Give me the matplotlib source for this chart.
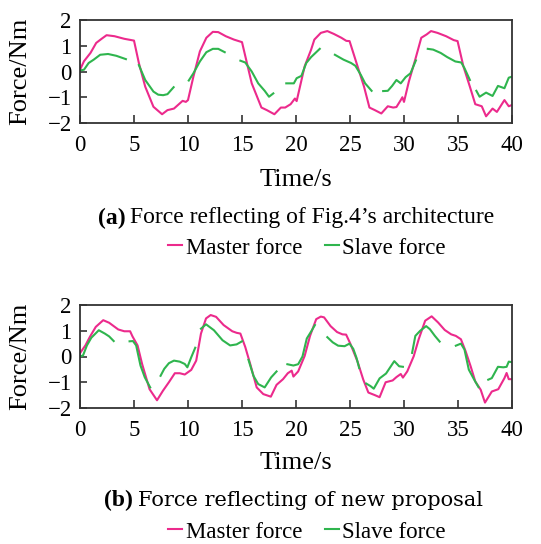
import numpy as np
import matplotlib
matplotlib.use("Agg")
import matplotlib.pyplot as plt

nan = np.nan

# ---------------- (a) Fig.4's architecture ----------------
a_master_t = [0, 0.37, 0.97, 1.5, 2.0, 2.46, 3.2, 4.1, 5.0, 5.45, 6.04, 6.8, 7.6, 8.1, 8.7, 9.5, 9.8, 10.0,
              10.5, 11.1, 11.7, 12.3, 12.8, 13.5, 14.25, 15.0, 15.9, 16.8, 17.3, 18.0, 18.6, 19.0, 19.5, 19.9,
              20.06, 20.8, 21.4, 21.7, 22.3, 22.9, 23.5, 24.2, 24.66, 24.96, 25.7, 26.3, 26.8, 27.3, 27.9, 28.5,
              29.0, 29.3, 29.7, 29.85, 30.0, 30.45, 31.04, 31.6, 32.1, 32.5, 33.1, 33.9, 34.6, 34.96, 35.5, 36.1,
              36.6, 37.2, 37.6, 38.2, 38.6, 39.3, 39.7, 40]
a_master_f = [0.07, 0.4, 0.72, 1.11, 1.27, 1.41, 1.37, 1.27, 1.2, 0.33, -0.59, -1.37, -1.66, -1.5, -1.44, -1.14,
              -1.18, -1.11, -0.2, 0.78, 1.31, 1.54, 1.53, 1.37, 1.24, 1.14, -0.46, -1.4, -1.5, -1.66, -1.4, -1.4,
              -1.27, -1.05, -1.15, 0.2, 0.85, 1.24, 1.5, 1.57, 1.46, 1.31, 1.19, 1.18, 0.2, -0.59, -1.4, -1.5,
              -1.63, -1.35, -1.4, -1.38, -1.11, -1.0, -1.18, -0.39, 0.46, 1.31, 1.44, 1.57, 1.5, 1.37, 1.22, 1.18,
              0.2, -0.59, -1.27, -1.35, -1.74, -1.44, -1.57, -1.11, -1.35, -1.3]

a_slave_t = [0, 0.37, 0.8, 1.27, 1.87, 2.6, 3.36, 4.25, nan,
             5.45, 6.04, 6.8, 7.24, 7.7, 8.1, 8.67, nan,
             10.07, 10.5, 11.1, 11.7, 12.3, 12.8, 13.4, nan,
             14.85, 15.3, 15.9, 16.5, 17.1, 17.5, 17.9, nan,
             19.1, 19.8, 20.06, 20.5, 20.95, 21.4, 21.8, 22.2, nan,
             23.6, 24.4, 25.1, 25.5, 26.0, 26.4, 27.0, nan,
             28.07, 28.5, 28.9, 29.3, 29.7, 30.15, 30.6, 31.1, nan,
             32.2, 32.7, 33.4, 34.0, 34.75, 35.3, 35.6, 36.1, nan,
             36.7, 37.0, 37.6, 38.2, 38.7, 39.3, 39.7, 40]
a_slave_f = [0.04, 0.07, 0.33, 0.46, 0.65, 0.68, 0.61, 0.48, nan,
             0.25, -0.33, -0.78, -0.9, -0.92, -0.88, -0.61, nan,
             -0.35, -0.07, 0.39, 0.75, 0.88, 0.88, 0.75, nan,
             0.42, 0.35, 0.0, -0.46, -0.75, -0.98, -0.85, nan,
             -0.46, -0.46, -0.26, -0.17, 0.33, 0.56, 0.72, 0.88, nan,
             0.65, 0.46, 0.33, 0.22, -0.13, -0.46, -0.75, nan,
             -0.76, -0.75, -0.56, -0.33, -0.46, -0.22, -0.07, 0.43, nan,
             0.88, 0.85, 0.72, 0.56, 0.39, 0.35, 0.13, -0.33, nan,
             -0.75, -0.98, -0.82, -0.95, -0.56, -0.65, -0.24, -0.2]

# ---------------- (b) new proposal ----------------
b_master_t = [0, 0.5, 0.91, 1.46, 2.15, 2.7, 3.54, 4.1, 4.64, 4.86, 5.33, 5.75, 6.44, 7.13, 7.68, 8.23, 8.78,
              9.24, 9.7, 10.3, 10.76, 11.2, 11.67, 12.1, 12.6, 13.3, 14.1, 14.5, 14.85, 15.3, 15.76, 16.36,
              16.97, 17.67, 18.2, 18.8, 19.24, 19.6, 19.76, 20.2, 20.8, 21.3, 21.87, 22.3, 22.6, 23.2, 23.8,
              24.3, 24.64, 25.03, 25.7, 26.23, 26.7, 27.3, 27.74, 28.3, 28.95, 29.3, 29.7, 29.9, 30.3, 30.9,
              31.36, 31.96, 32.56, 33.16, 33.77, 34.37, 34.8, 35.27, 35.7, 36.17, 36.6, 37.1, 37.5, 38.13,
              38.73, 39.3, 39.5, 39.7, 40]
b_master_f = [0.13, 0.43, 0.76, 1.15, 1.41, 1.31, 1.05, 0.98, 0.98, 0.78, 0.43, -0.29, -1.27, -1.7, -1.33,
              -1.0, -0.65, -0.65, -0.7, -0.52, -0.16, 0.89, 1.48, 1.61, 1.54, 1.22, 0.98, 0.92, 0.89, 0.37,
              -0.29, -1.2, -1.46, -1.56, -1.1, -0.88, -0.65, -0.55, -0.78, -0.58, 0.02, 0.8, 1.45, 1.55, 1.52,
              1.18, 0.95, 0.86, 0.85, 0.5, -0.2, -0.9, -1.4, -1.5, -1.58, -1.0, -0.93, -0.8, -0.68, -0.82,
              -0.58, 0.01, 0.67, 1.39, 1.56, 1.32, 1.03, 0.86, 0.8, 0.67, 0.21, -0.38, -0.97, -1.29, -1.79,
              -1.36, -1.27, -0.84, -0.64, -0.88, -0.88]

b_slave_t = [0, 0.28, 0.64, 1.05, 1.74, 2.3, 2.7, 3.12, nan,
             4.59, 4.9, 5.2, 5.6, 6.0, 6.5, nan,
             7.46, 7.8, 8.23, 8.7, 9.24, 9.7, 9.94, 10.3, 10.67, nan,
             11.2, 11.67, 12.4, 13.2, 13.9, 14.5, 15.0, nan,
             15.6, 16.06, 16.5, 17.1, 17.7, 18.2, nan,
             19.2, 19.76, 20.2, 20.6, 21.0, 21.4, 21.75, nan,
             22.9, 23.4, 23.9, 24.5, 24.95, 25.3, 25.6, 25.85, nan,
             26.5, 26.9, 27.2, 27.74, 28.34, 29.1, 29.55, 29.9, nan,
             30.75, 31.05, 31.5, 32.05, 32.4, 32.86, 33.3, nan,
             34.8, 35.27, 35.6, 36.0, 36.5, 36.9, nan,
             37.8, 38.13, 38.7, 39.2, 39.5, 39.7, 40]
b_slave_f = [0.0, 0.04, 0.43, 0.73, 1.02, 0.89, 0.78, 0.6, nan,
             0.59, 0.6, 0.43, -0.35, -0.81, -1.2, nan,
             -0.75, -0.48, -0.26, -0.16, -0.2, -0.29, -0.42, -0.03, 0.34, nan,
             1.08, 1.25, 1.02, 0.63, 0.43, 0.47, 0.59, nan,
             -0.13, -0.75, -1.07, -1.2, -0.81, -0.58, nan,
             -0.3, -0.35, -0.3, 0.0, 0.7, 0.97, 1.22, nan,
             0.75, 0.55, 0.42, 0.4, 0.5, 0.3, -0.05, -0.45, nan,
             -1.05, -1.15, -1.25, -0.85, -0.66, -0.18, -0.38, -0.4, nan,
             0.14, 0.8, 1.0, 1.18, 1.06, 0.8, 0.58, nan,
             0.42, 0.5, 0.27, -0.51, -0.9, -1.19, nan,
             -0.9, -0.84, -0.4, -0.42, -0.4, -0.2, -0.22]

x_ticks = [0, 5, 10, 15, 20, 25, 30, 35, 40]
y_ticks = [-2, -1, 0, 1, 2]
y_ticklabels = ["\u22122", "\u22121", "0", "1", "2"]
xlabel = "Time/s"
ylabel = "Force/Nm"
captions = [("(a)", "Force reflecting of Fig.4\u2019s architecture"),
            ("(b)", "Force reflecting of new proposal")]
legend_labels = ["Master force", "Slave force"]

MAG = "#ec2a8c"
GRN = "#2fb54e"

SERIF = ["Liberation Serif", "DejaVu Serif"]
WIDE = ["DejaVu Serif", "Liberation Serif"]
plt.rcParams["font.family"] = SERIF

W, H = 541, 544
fig = plt.figure(figsize=(W / 100, H / 100), dpi=100)

def fx(px):
    return px / W

def fy(py):
    return 1 - py / H

panels = [
    (a_master_t, a_master_f, a_slave_t, a_slave_f, 20, 123, 180, 218, 248),
    (b_master_t, b_master_f, b_slave_t, b_slave_f, 305, 408, 463, 500, 532),
]

for i, (mt, mf, st, sf, top, bot, xl_y, cap_y, leg_y) in enumerate(panels):
    ax = fig.add_axes([fx(80), fy(bot), fx(512) - fx(80), fy(top) - fy(bot)])
    lm, = ax.plot(mt, mf, color=MAG, lw=1.5, label=legend_labels[0])
    ls, = ax.plot(st, sf, color=GRN, lw=1.5, label=legend_labels[1])
    ax.set_xlim(0, 40)
    ax.set_ylim(-2, 2)
    ax.set_xticks(x_ticks)
    ax.set_yticks(y_ticks)
    ax.set_yticklabels(y_ticklabels)
    ax.tick_params(axis="x", direction="in", length=6, width=1.2, labelsize=16.5, pad=8.5, color="#333333")
    ax.tick_params(axis="y", direction="in", length=5, width=1.2, labelsize=16.5, pad=6, color="#333333")
    for sp in ax.spines.values():
        sp.set_linewidth(1.3)
        sp.set_color("#333333")
    ax.set_ylabel(ylabel, fontsize=19)
    ax.yaxis.set_label_coords((31 - 80) / 432, 0.5)
    fig.text(fx(296), fy(xl_y), xlabel, fontsize=19, ha="center", va="center")
    bold, rest = captions[i]
    if i == 0:
        fig.text(fx(126), fy(cap_y), bold, fontsize=17, fontweight="bold", ha="right", va="center")
        fig.text(fx(130), fy(cap_y), rest, fontsize=17, ha="left", va="center")
    else:
        fig.text(fx(133), fy(cap_y), bold, fontsize=17, fontweight="bold", ha="right", va="center")
        fig.text(fx(138), fy(cap_y), rest, fontsize=15, ha="left", va="center", family=WIDE)
    fig.legend(handles=[lm, ls], loc="center", bbox_to_anchor=(fx(307), fy(leg_y)), ncol=2,
               frameon=False, fontsize=16.5, handlelength=0.6, handletextpad=0.15, columnspacing=1.0,
               borderaxespad=0, borderpad=0)

fig.savefig("out.png", dpi=100)
